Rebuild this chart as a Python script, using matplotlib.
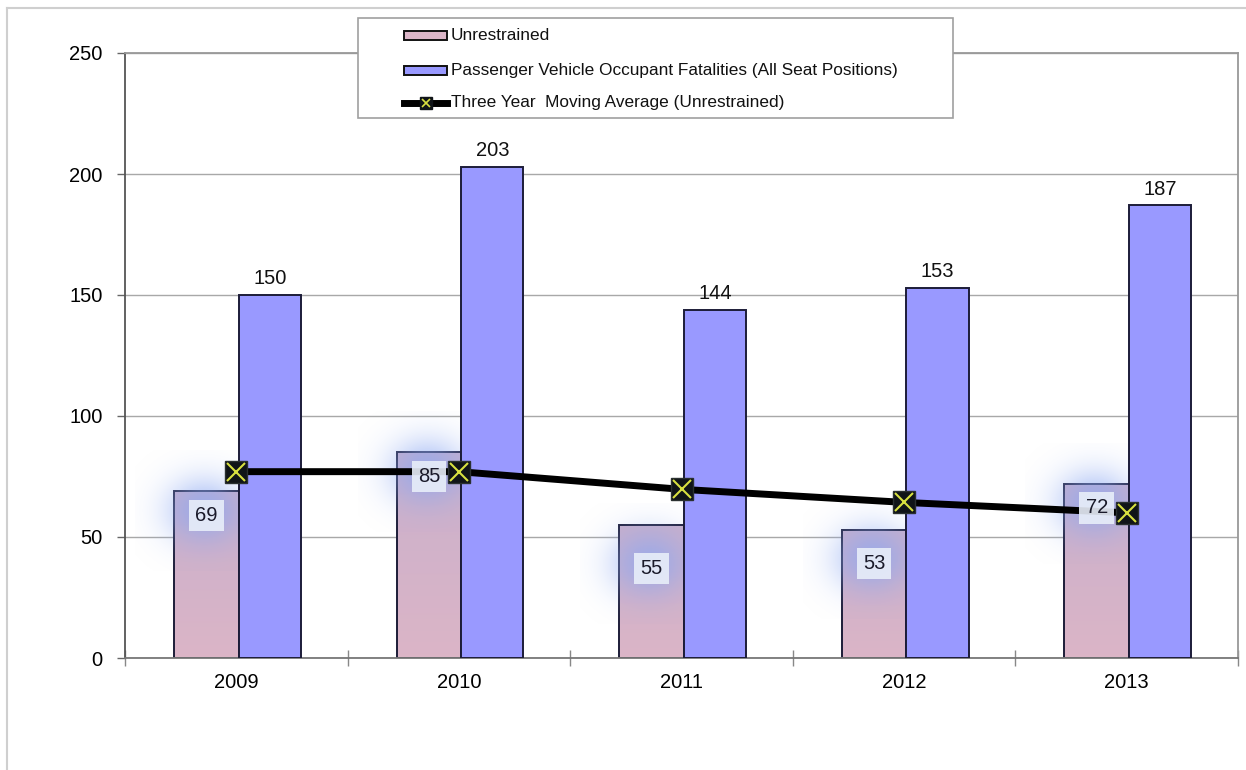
import numpy as np
import matplotlib
matplotlib.use("Agg")
import matplotlib.pyplot as plt
from matplotlib.patches import Rectangle
from matplotlib.lines import Line2D
from matplotlib import font_manager

# ---- data ----
years = ["2009", "2010", "2011", "2012", "2013"]
unrestrained = [69, 85, 55, 53, 72]
all_positions = [150, 203, 144, 153, 187]
moving_avg = [77, 77, 69.7, 64.3, 60]
y_ticks = [0, 50, 100, 150, 200, 250]
legend_labels = ["Unrestrained",
                 "Passenger Vehicle Occupant Fatalities (All Seat Positions)",
                 "Three Year  Moving Average (Unrestrained)"]

# ---- style ----
label_drop = [10, 10, 18, 14, 10]   # how far the pink labels sit below bar top
pink_top = np.array([0.79, 0.69, 0.80])
pink_bot = np.array([0.86, 0.71, 0.78])
blue = "#9999FF"
edge = "#1c1c38"
names = {f.name for f in font_manager.fontManager.ttflist}
narrow = "Liberation Sans Narrow" in names
font = "Liberation Sans Narrow" if narrow else "Liberation Sans"
scale = 1.0 if narrow else 0.83
plt.rcParams["font.family"] = [font, "DejaVu Sans"]
fs_tick = 17.5 * scale
fs_lab = 17.5 * scale
fs_leg = 15 * scale

fig = plt.figure(figsize=(12.46, 7.70), dpi=100)
W, H = 1246, 770
ax = fig.add_axes([125 / W, 1 - 658 / H, 1113 / W, 605 / H])

x = np.arange(len(years))
pw, bw = 0.29, 0.28
pink_c = x - 0.135
blue_c = x + 0.15

# pink bars with gradient
for i, (xc, v) in enumerate(zip(pink_c, unrestrained)):
    grad = np.linspace(0, 1, 100)[:, None, None]
    img = pink_top[None, None, :] * (1 - grad) + pink_bot[None, None, :] * grad
    ax.imshow(img, extent=[xc - pw / 2, xc + pw / 2, 0, v], aspect="auto",
              zorder=2, interpolation="bilinear", origin="upper")
bars_p = ax.bar(pink_c, unrestrained, width=pw, facecolor="none",
                edgecolor=edge, linewidth=1.4, zorder=2.2)

# glow behind pink labels
gy, gx = np.mgrid[-1:1:120j, -1:1:120j]
blob = np.exp(-((gx ** 2 + gy ** 2) / 0.30))
rgba = np.zeros((120, 120, 4))
rgba[..., 0], rgba[..., 1], rgba[..., 2] = 0.55, 0.66, 0.95
rgba[..., 3] = 0.7 * blob
for xc, v, d in zip(pink_c, unrestrained, label_drop):
    ly = v - d + 2
    ax.imshow(rgba, extent=[xc - 0.32, xc + 0.30, ly - 25, ly + 25],
              aspect="auto", zorder=2.5, interpolation="bilinear")

bars_b = ax.bar(blue_c, all_positions, width=bw, color=blue,
                edgecolor=edge, linewidth=1.4, zorder=3)

# moving average line
ax.plot(x, moving_avg, color="black", linewidth=5, zorder=5,
        solid_capstyle="butt")
ax.plot(x, moving_avg, linestyle="none", marker="s", markersize=16,
        markerfacecolor="#101418", markeredgecolor="#2a3030", zorder=6)
ax.plot(x, moving_avg, linestyle="none", marker="x", markersize=13,
        markeredgecolor="#d8e040", markeredgewidth=1.5, zorder=7)

# labels
for xc, v, d in zip(pink_c, unrestrained, label_drop):
    ax.text(xc, v - d, str(v), ha="center", va="center", fontsize=fs_lab,
            color="#1a1a2a", zorder=8,
            bbox=dict(boxstyle="square,pad=0.3", facecolor="#e8eef9",
                      edgecolor="none", alpha=0.9))
for xc, v in zip(blue_c, all_positions):
    ax.annotate(str(v), (xc, v), xytext=(0, 5), textcoords="offset points",
                ha="center", va="bottom", fontsize=fs_lab, color="#111111",
                zorder=8)

ax.set_xlim(-0.5, len(years) - 0.5)
ax.set_ylim(0, 250)
ax.set_yticks(y_ticks)
ax.set_yticklabels([str(t) for t in y_ticks])
ax.set_xticks(x)
ax.set_xticklabels(years)
ax.set_xticks(np.arange(-0.5, len(years), 1.0), minor=True)
ax.tick_params(axis="x", which="major", length=0, pad=11, labelsize=fs_tick)
ax.tick_params(axis="x", which="minor", direction="inout", length=12,
               color="#888888", width=1)
ax.tick_params(axis="y", length=6, width=1, color="#666666", pad=10,
               labelsize=fs_tick)
ax.yaxis.grid(True, color="#a8a8a8", linewidth=1)
ax.set_axisbelow(True)
for s in ["top", "right"]:
    ax.spines[s].set_color("#999999")
ax.spines["left"].set_color("#555555")
ax.spines["bottom"].set_color("#777777")
for s in ax.spines.values():
    s.set_linewidth(1.3)

# outer frame
fig.add_artist(Line2D([7 / W, 7 / W], [0, 1 - 8 / H], color="#cfcfcf",
                      linewidth=1.5, transform=fig.transFigure))
fig.add_artist(Line2D([7 / W, 1], [1 - 8 / H, 1 - 8 / H], color="#cfcfcf",
                      linewidth=1.5, transform=fig.transFigure))

# legend (manual)
lx0, ly0, lx1, ly1 = 358, 18, 953, 118
fig.add_artist(Rectangle((lx0 / W, 1 - ly1 / H), (lx1 - lx0) / W,
                         (ly1 - ly0) / H, transform=fig.transFigure,
                         facecolor="white", edgecolor="#a0a0a0",
                         linewidth=1.2, zorder=10))
rows = [35, 70, 103]
hx0, hx1 = 404, 447
for k, (ry, lab) in enumerate(zip(rows, legend_labels)):
    yy = 1 - ry / H
    if k < 2:
        fc = pink_bot if k == 0 else blue
        fig.add_artist(Rectangle((hx0 / W, yy - 4.5 / H), (hx1 - hx0) / W,
                                 9 / H, transform=fig.transFigure,
                                 facecolor=fc, edgecolor="#111111",
                                 linewidth=1.4, zorder=11))
    else:
        fig.add_artist(Line2D([hx0 / W, hx1 / W], [yy, yy], color="black",
                              linewidth=5, transform=fig.transFigure,
                              zorder=11))
        fig.add_artist(Line2D([(hx0 + hx1) / 2 / W], [yy], marker="s",
                              markersize=8, markerfacecolor="#101418",
                              markeredgecolor="#101418", linestyle="none",
                              transform=fig.transFigure, zorder=12))
        fig.add_artist(Line2D([(hx0 + hx1) / 2 / W], [yy], marker="x",
                              markersize=6, markeredgecolor="#d8e040",
                              markeredgewidth=1.2, linestyle="none",
                              transform=fig.transFigure, zorder=13))
    fig.text(451 / W, yy, lab, ha="left", va="center", fontsize=fs_leg,
             color="#111111", zorder=12)

fig.savefig("out.png", dpi=100)
